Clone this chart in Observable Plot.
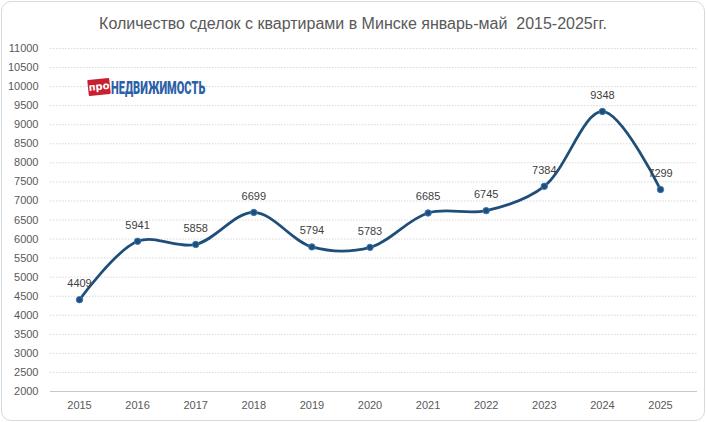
<!DOCTYPE html>
<html>
<head>
<meta charset="utf-8">
<script src="https://cdn.jsdelivr.net/npm/d3@7"></script>
<script src="https://cdn.jsdelivr.net/npm/@observablehq/plot@0.6"></script>
<style>
  html, body { margin: 0; padding: 0; background: #fff; }
  #wrap { position: relative; width: 706px; height: 422px; overflow: hidden; }
  #frame { position: absolute; left: 1px; top: 1px; border: 1px solid #d9d9d9; border-radius: 10px; box-sizing: border-box; width: 704px; height: 420px; }
  #title { position: absolute; left: 0; top: 15px; width: 706px; text-align: center; font-family: "Liberation Sans", Arial, sans-serif; font-size: 16px; color: #595959; white-space: pre; }
  #chart { position: absolute; left: 0; top: 0; }
  #logo { position: absolute; left: 88px; top: 77px; height: 20px; }
  #logo .pro { position: absolute; left: 0; top: 2px; width: 22px; height: 16px; background: #c8202f; color: #fff; font-family: "DejaVu Sans", sans-serif; font-weight: bold; font-size: 10px; line-height: 15px; text-align: center; transform: rotate(-6deg); border-radius: 1px; }
  #logo .ned { position: absolute; left: 23px; top: -1px; font-family: Roboto, "Liberation Sans", sans-serif; font-weight: 900; font-size: 19px; color: #2b5fa8; white-space: nowrap; transform: scaleX(0.58); transform-origin: left center; }
</style>
</head>
<body>
<div id="wrap">
  <div id="frame"></div>
  <div id="chart"></div>
  <div id="title">Количество сделок с квартирами в Минске январь-май  2015-2025гг.</div>
  <div id="logo"><div class="pro">про</div><div class="ned">НЕДВИЖИМОСТЬ</div></div>
</div>
<script>
const years = [2015, 2016, 2017, 2018, 2019, 2020, 2021, 2022, 2023, 2024, 2025];
const deals = [4409, 5941, 5858, 6699, 5794, 5783, 6685, 6745, 7384, 9348, 7299];
const yTicks = [2000, 2500, 3000, 3500, 4000, 4500, 5000, 5500, 6000, 6500, 7000, 7500, 8000, 8500, 9000, 9500, 10000, 10500, 11000];

const data = years.map((y, i) => ({year: y, value: deals[i]}));
const gridTicks = yTicks.filter(t => t > 2000);

const chart = Plot.plot({
  width: 706,
  height: 422,
  marginTop: 48,
  marginBottom: 31,
  marginLeft: 50,
  marginRight: 9,
  style: {fontFamily: "'Liberation Sans', Arial, sans-serif", fontSize: "11px", color: "#595959", background: "transparent"},
  x: {type: "linear", domain: [2015, 2025], range: [79, 660]},
  y: {domain: [2000, 11000]},
  marks: [
    Plot.ruleY(gridTicks, {stroke: "#d9d9d9", strokeWidth: 1, strokeDasharray: "1.5,1.5"}),
    Plot.ruleY([2000], {stroke: "#c8c8c8", strokeWidth: 1}),
    Plot.axisY({ticks: yTicks, tickSize: 0, tickPadding: 12, tickFormat: d => String(d), label: null, fill: "#595959"}),
    Plot.axisX({ticks: years, tickSize: 0, tickPadding: 10, tickFormat: d => String(d), label: null, fill: "#595959"}),
    Plot.line(data, {x: "year", y: "value", curve: "catmull-rom", stroke: "#1f4e79", strokeWidth: 2.75}),
    Plot.dot(data, {x: "year", y: "value", r: 3.2, fill: "#1f4e79", stroke: "#3a78b8", strokeWidth: 1}),
    Plot.text(data, {x: "year", y: "value", text: d => String(d.value), dy: -16, fill: "#404040", fontSize: 11})
  ]
});
document.getElementById("chart").appendChild(chart);
</script>
</body>
</html>
